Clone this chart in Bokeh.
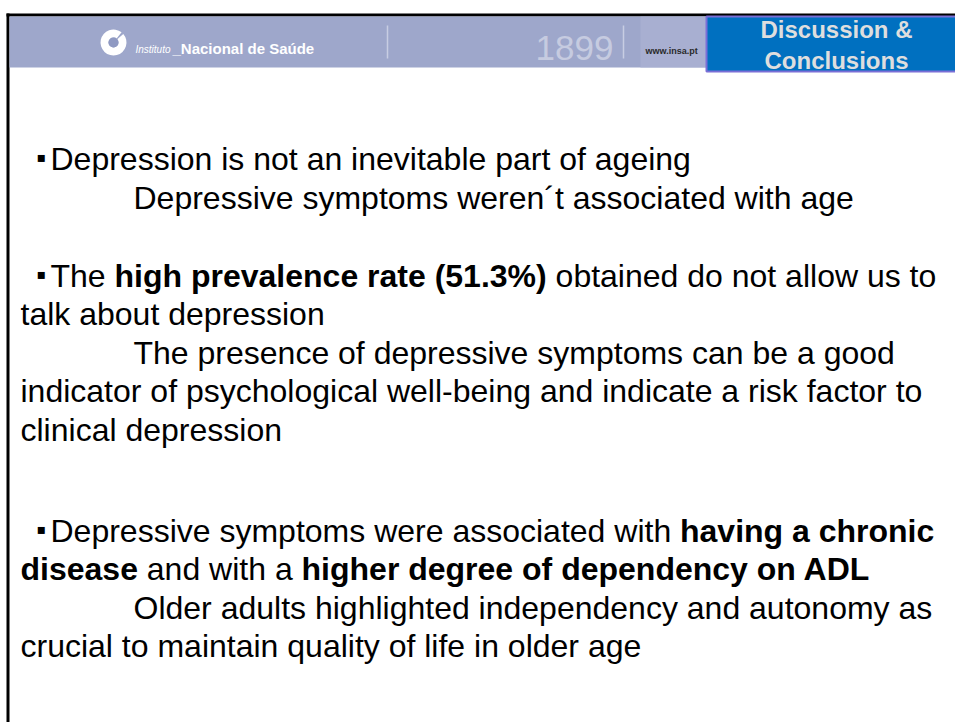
from bokeh.plotting import figure
from bokeh.models import Range1d
from bokeh.core.properties import value
from bokeh.embed import file_html
from bokeh.resources import INLINE

# ---------------- content ----------------
header_institute_small = "Instituto"
header_institute = "_Nacional de Saúde"
header_year = "1899"
header_url = "www.insa.pt"
section_title = ["Discussion &", "Conclusions"]

line_segments = [
    [("Depression is not an inevitable part of ageing", False)],
    [("Depressive symptoms weren\u00b4t associated with age", False)],
    [("The ", False), ("high prevalence rate (51.3%)", True), (" obtained do not allow us to", False)],
    [("talk about depression", False)],
    [("The presence of depressive symptoms can be a good", False)],
    [("indicator of psychological well-being and indicate a risk factor to", False)],
    [("clinical depression", False)],
    [("Depressive symptoms were associated with ", False), ("having a chronic", True)],
    [("disease", True), (" and with a ", False), ("higher degree of dependency on ADL", True)],
    [("Older adults highlighted independency and autonomy as", False)],
    [("crucial to maintain quality of life in older age", False)],
]
line_kind = ["bullet", "indent", "bullet", "plain", "indent", "plain", "plain",
             "bullet", "plain", "indent", "plain"]
line_baseline = [168, 207, 285, 323, 362, 400, 439, 540, 578, 617, 655]

# ---------------- layout / style ----------------
W, H = 955, 722
FS = 32
FONT = "Liberation Sans"
X_START = {"bullet": 50, "indent": 133, "plain": 20}
BULLET_X = 36
BASE_SHIFT = 0.31  # renderer places the alphabetic baseline ~0.31em below y

REG = {' ': 278, '%': 889, '(': 333, ')': 333, '.': 278, '-': 333, '\u00b4': 333, '&': 667}
BOLD = {' ': 278, '%': 889, '(': 333, ')': 333, '.': 278, '-': 333, '&': 722, '\u00fa': 611}
for d in "0123456789":
    REG[d] = 556
    BOLD[d] = 556
REG.update(dict(zip("ABCDEFGHIJKLMNOPQRSTUVWXYZ",
                    [667, 667, 722, 722, 667, 611, 778, 722, 278, 500, 667, 556, 833, 722, 778, 667, 778, 722, 667, 611, 722, 667, 944, 667, 667, 611])))
REG.update(dict(zip("abcdefghijklmnopqrstuvwxyz",
                    [556, 556, 500, 556, 556, 278, 556, 556, 222, 222, 500, 222, 833, 556, 556, 556, 556, 333, 500, 278, 556, 500, 722, 500, 500, 500])))
BOLD.update(dict(zip("ABCDEFGHIJKLMNOPQRSTUVWXYZ",
                     [722, 722, 722, 722, 667, 611, 778, 722, 278, 556, 722, 611, 833, 722, 778, 667, 778, 722, 667, 611, 722, 667, 944, 667, 667, 611])))
BOLD.update(dict(zip("abcdefghijklmnopqrstuvwxyz",
                     [556, 611, 556, 611, 556, 333, 611, 611, 278, 278, 556, 278, 889, 611, 611, 611, 611, 389, 556, 333, 611, 556, 778, 556, 556, 500])))


def text_width(s, bold, size):
    t = BOLD if bold else REG
    return sum(t.get(c, 556) for c in s) * size / 1000.0


def by(baseline, size):
    return baseline - BASE_SHIFT * size


p = figure(width=W, height=H, output_backend="svg", toolbar_location=None,
           x_range=Range1d(0, W), y_range=Range1d(H, 0),
           min_border=0, outline_line_color=None, background_fill_color="white",
           border_fill_color="white")
p.axis.visible = False
p.grid.visible = False

# ---- slide frame ----
p.quad(left=[6], right=[960], top=[13], bottom=[16], fill_color="black", line_color=None)
p.quad(left=[6], right=[9], top=[13], bottom=[730], fill_color="black", line_color=None)

# ---- header band ----
p.quad(left=[9], right=[960], top=[16], bottom=[67], fill_color="#9ea7cb", line_color=None)
p.quad(left=[640], right=[706], top=[16], bottom=[67], fill_color="#aab2d2", line_color=None, fill_alpha=0.8)
p.segment(x0=[387, 623], y0=[25, 25], x1=[387, 623], y1=[58, 58], line_color="#c8cde3", line_width=1.5)
p.annular_wedge(x=[113], y=[42], inner_radius=5, outer_radius=13, start_angle=0.9, end_angle=7.0,
                fill_color="white", line_color=None)
p.circle(x=[113], y=[42], radius=5, fill_color="#8f99c2", line_color=None)
p.text(x=[135], y=[by(52, 10)], text=[header_institute_small], text_font=value(FONT), text_font_size="10px",
       text_font_style="italic", text_color="white", text_baseline="alphabetic")
p.text(x=[172], y=[by(53, 15)], text=[header_institute], text_font=value(FONT), text_font_size="15px",
       text_font_style="bold", text_color="white", text_baseline="alphabetic")
p.text(x=[535], y=[by(58, 35)], text=[header_year], text_font=value(FONT), text_font_size="35px",
       text_color="#c6cbe0", text_baseline="alphabetic")
p.text(x=[645], y=[by(53, 9)], text=[header_url], text_font=value(FONT), text_font_size="9px",
       text_font_style="bold", text_color="#2a2a2a", text_baseline="alphabetic")

p.quad(left=[706], right=[960], top=[16], bottom=[71], fill_color="#0070c0",
       line_color="#7a6fd6", line_width=2)
p.text(x=[836, 836], y=[by(36, 24), by(67, 24)], text=section_title, text_font=value(FONT),
       text_font_size="24px", text_font_style="bold", text_color="#dedede", text_align="center",
       text_baseline="alphabetic")

# ---- body text ----
xs, ys, ts, bxs, bys, bts = [], [], [], [], [], []
for segs, kind, yb in zip(line_segments, line_kind, line_baseline):
    x = X_START[kind]
    if kind == "bullet":
        p.text(x=[BULLET_X], y=[by(yb, 28) - 2], text=["\u25aa"], text_font=value(FONT),
               text_font_size="28px", text_color="black", text_baseline="alphabetic")
    for s, b in segs:
        lead = len(s) - len(s.lstrip(" "))
        core = s.strip(" ")
        trail = len(s) - lead - len(core)
        x += text_width(" " * lead, b, FS)
        if b:
            bxs.append(x); bys.append(by(yb, FS)); bts.append(core)
        else:
            xs.append(x); ys.append(by(yb, FS)); ts.append(core)
        x += text_width(core, b, FS) + text_width(" " * trail, b, FS)

p.text(x=xs, y=ys, text=ts, text_font=value(FONT), text_font_size=f"{FS}px",
       text_color="black", text_baseline="alphabetic")
p.text(x=bxs, y=bys, text=bts, text_font=value(FONT), text_font_size=f"{FS}px",
       text_font_style="bold", text_color="black", text_baseline="alphabetic")

open("out.html", "w").write(file_html(p, INLINE))
